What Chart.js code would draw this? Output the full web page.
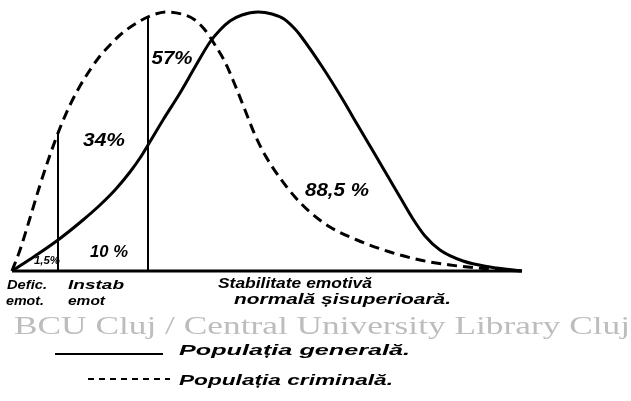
<!DOCTYPE html>
<html>
<head>
<meta charset="utf-8">
<script src="https://cdn.jsdelivr.net/npm/chart.js@4.4.1/dist/chart.umd.min.js"></script>
<style>
html,body{margin:0;padding:0;background:#fff;}
#wrap{width:631px;height:401px;position:relative;}
</style>
</head>
<body>
<div id="wrap"><canvas id="c"></canvas></div>
<script>
// ---- data (arbitrary scale units) ----
const generalX  = [0, 23, 46, 71, 88, 103, 118, 128, 136, 151, 168, 183, 198, 208, 218, 230, 246, 260, 272, 283, 288, 311, 331, 345, 358, 368, 378, 388, 401, 413, 428, 451, 478, 510];
const generalY  = [0, 15, 31, 51, 66, 81, 99, 113, 126, 151, 178, 204, 229, 241, 250, 256, 259, 257, 252, 242, 236, 203, 171, 147, 125, 108, 91, 74, 52, 35, 21, 10, 4, 0];
const criminalX = [0, 8, 18, 28, 38, 48, 58, 68, 78, 88, 98, 108, 123, 138, 155, 173, 183, 193, 203, 213, 223, 233, 243, 253, 268, 283, 298, 318, 345, 378, 408, 438, 478, 510];
const criminalY = [0, 21, 53, 86, 116, 143, 166, 185, 201, 215, 226, 236, 247, 255, 259, 256, 251, 241, 226, 209, 186, 161, 136, 116, 93, 74, 59, 44, 31, 19, 11, 6, 2, 0];
const dividerX  = [46, 136];
const dividerTop = [137, 255];
const categories = [["Defic.", "emot."], ["Instab", "emot"], ["Stabilitate emotivă", "normală șisuperioară."]];
const generalShares = ["1,5%", "10 %", "88,5 %"];
const criminalShares = ["34%", "57%"];
const seriesNames = ["Populația generală.", "Populația criminală."];
const watermark = "BCU Cluj / Central University Library Cluj";

const pts = (xs, ys) => xs.map((x, i) => ({x, y: ys[i]}));

function fitText(ctx, text, x, y, w, font, center) {
  ctx.save();
  ctx.font = font;
  const m = ctx.measureText(text).width;
  const s = w / m;
  ctx.translate(x, y);
  ctx.scale(s, 1);
  ctx.textBaseline = 'middle';
  ctx.textAlign = 'left';
  ctx.fillText(text, center ? -m / 2 : 0, 0);
  ctx.restore();
}

const hand = (sz) => `italic bold ${sz}px "Liberation Sans", sans-serif`;

const annot = {
  id: 'annot',
  afterDraw(chart) {
    const ctx = chart.ctx;
    const xs = chart.scales.x, ys = chart.scales.y;
    const base = ys.getPixelForValue(0);
    ctx.save();
    // watermark
    ctx.fillStyle = '#bdbdbd';
    fitText(ctx, watermark, 14, base + 56, 616, '25px "Liberation Serif", serif', false);
    ctx.fillStyle = '#000';
    // percentage labels (general)
    fitText(ctx, generalShares[0], xs.getPixelForValue(35), ys.getPixelForValue(10), 26, hand(10), true);
    fitText(ctx, generalShares[1], xs.getPixelForValue(97), ys.getPixelForValue(19), 38, hand(17), true);
    fitText(ctx, generalShares[2], xs.getPixelForValue(325), ys.getPixelForValue(80), 64, hand(18), true);
    // criminal
    fitText(ctx, criminalShares[0], xs.getPixelForValue(92), ys.getPixelForValue(130), 42, hand(18), true);
    fitText(ctx, criminalShares[1], xs.getPixelForValue(160), ys.getPixelForValue(212), 41, hand(18), true);
    // category labels
    fitText(ctx, categories[0][0], xs.getPixelForValue(-5), base + 14, 40, hand(13), false);
    fitText(ctx, categories[0][1], xs.getPixelForValue(-6), base + 30, 38, hand(13), false);
    fitText(ctx, categories[1][0], xs.getPixelForValue(56), base + 14, 56, hand(13), false);
    fitText(ctx, categories[1][1], xs.getPixelForValue(56), base + 30, 37, hand(13), false);
    fitText(ctx, categories[2][0], xs.getPixelForValue(206), base + 13, 154, hand(14), false);
    fitText(ctx, categories[2][1], xs.getPixelForValue(222), base + 29, 217, hand(14), false);
    // legend
    const d0 = chart.data.datasets[0], d1 = chart.data.datasets[1];
    ctx.strokeStyle = '#000';
    ctx.lineWidth = 2;
    ctx.setLineDash([]);
    ctx.beginPath(); ctx.moveTo(55, base + 83); ctx.lineTo(163, base + 83); ctx.stroke();
    ctx.setLineDash([6, 5]);
    ctx.beginPath(); ctx.moveTo(88, base + 108); ctx.lineTo(170, base + 108); ctx.stroke();
    ctx.setLineDash([]);
    fitText(ctx, d0.label, 179, base + 80, 231, hand(15), false);
    fitText(ctx, d1.label, 179, base + 110, 214, hand(15), false);
    ctx.restore();
  }
};

const dividerSets = dividerX.map((x, i) => ({
  label: 'div' + i,
  data: [{x, y: 0}, {x, y: dividerTop[i]}],
  borderColor: '#000', borderWidth: 2, pointRadius: 0, tension: 0, clip: false
}));

new Chart(document.getElementById('c'), {
  type: 'line',
  data: {
    datasets: [
      { label: seriesNames[0], data: pts(generalX, generalY), borderColor: '#000', borderWidth: 3,
        pointRadius: 0, cubicInterpolationMode: 'monotone', clip: false },
      { label: seriesNames[1], data: pts(criminalX, criminalY), borderColor: '#000', borderWidth: 3,
        borderDash: [10, 6], pointRadius: 0, cubicInterpolationMode: 'monotone', clip: false },
      ...dividerSets,
      { label: 'base', data: [{x: 0, y: 0}, {x: 510, y: 0}], borderColor: '#000', borderWidth: 3,
        pointRadius: 0, clip: false }
    ]
  },
  options: {
    responsive: true, maintainAspectRatio: false, animation: false,
    layout: { padding: { left: 12, right: 109, top: 9, bottom: 130 } },
    scales: {
      x: { type: 'linear', min: 0, max: 510, display: false },
      y: { min: 0, max: 262, display: false }
    },
    plugins: { legend: { display: false }, tooltip: { enabled: false } }
  },
  plugins: [annot]
});
</script>
</body>
</html>
